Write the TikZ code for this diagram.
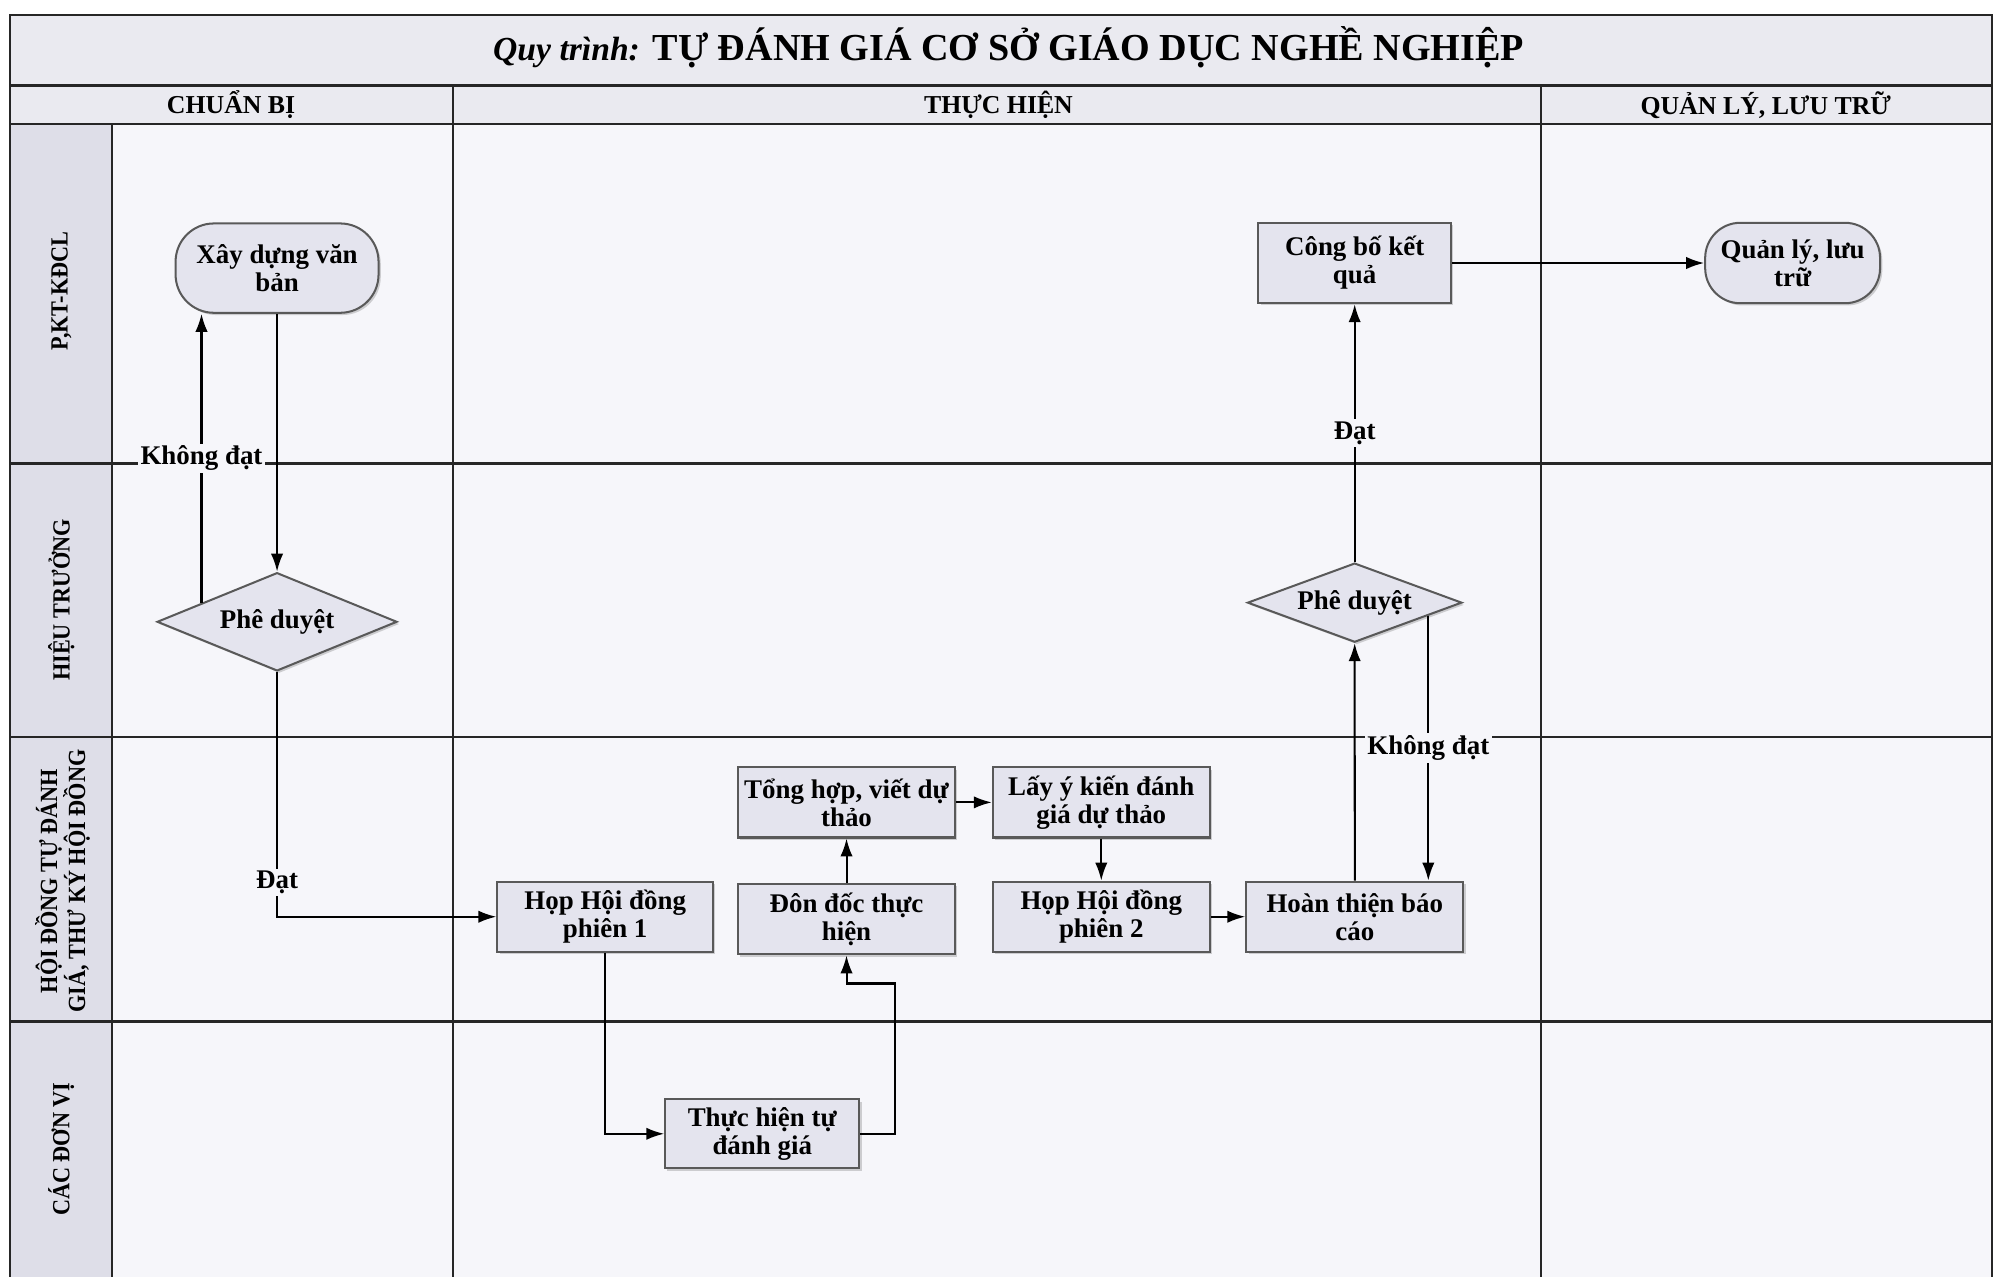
\documentclass[tikz,border=0pt]{standalone}
\usepackage{fontspec}
\setmainfont{Liberation Serif}
\newfontfamily\narrowfont[FakeStretch=0.9]{Liberation Serif}
\definecolor{paper}{RGB}{246,246,250}
\definecolor{band}{RGB}{234,234,240}
\definecolor{lanefill}{RGB}{222,222,232}
\definecolor{boxfill}{RGB}{228,228,238}
\tikzset{
    process/.style={rectangle,draw=black!65,fill=boxfill,text centered,align=center,inner sep=1pt,
        font=\bfseries\fontsize{12}{12.5}\selectfont,minimum width=3.4cm,minimum height=1.1cm,
        drop shadow={shadow xshift=1pt,shadow yshift=-1pt,opacity=0.35}},
    terminal/.style={process,rounded corners=0.55cm},
    decision/.style={diamond,draw=black!65,fill=boxfill,text centered,inner sep=0pt,aspect=2.5,
        font=\bfseries\fontsize{12}{12.5}\selectfont,
        drop shadow={shadow xshift=1pt,shadow yshift=-1pt,opacity=0.35}},
    flowlabel/.style={fill=paper,inner sep=1pt,font=\bfseries\fontsize{12}{12.5}\selectfont},
    lanetitle/.style={rotate=90,align=center,font=\narrowfont\bfseries\fontsize{11}{12.5}\selectfont},
    phasetitle/.style={font=\bfseries\fontsize{11.5}{12}\selectfont},
    grid/.style={draw=black!85,line width=1pt},
}
\usetikzlibrary{shapes,shadows,arrows.meta}
\usetikzlibrary{positioning,calc}

\begin{document}
\begin{tikzpicture}[>={Latex[length=8pt,width=5.5pt]},x=0.02cm,y=-0.02cm,line width=0.9pt]
\useasboundingbox (0,0) rectangle (1568,1000);
% swimlane frame
\fill[paper] (8,12) rectangle (1560,1001);
\fill[band] (8,12) rectangle (1560,97);
\fill[lanefill] (8,97) rectangle (88,1001);
\draw[grid] (8,12) rectangle (1560,1001);
\draw[grid] (8,67) -- (1560,67);
\draw[grid] (8,97) -- (1560,97);
\foreach \y in {363,577,800} \draw[grid] (8,\y) -- (1560,\y);
\foreach \x in {355,1207} \draw[grid] (\x,67) -- (\x,1001);
\draw[grid] (88,97) -- (88,1001);

\node[font=\bfseries\fontsize{17}{17}\selectfont] (title) at (790,37) {{\fontsize{15}{15}\selectfont\itshape Quy trình:} TỰ ĐÁNH GIÁ CƠ SỞ GIÁO DỤC NGHỀ NGHIỆP};
\node[phasetitle] (chuanbi) at (181,82) {CHUẨN BỊ};
\node[phasetitle] (thuchien) at (782,82) {THỰC HIỆN};
\node[phasetitle] (quanlyluutru) at (1383,82) {QUẢN LÝ, LƯU TRỮ};
\node[lanetitle] (kdcl) at (48,228) {P,KT-KĐCL};
\node[lanetitle] (hieutruong) at (48,470) {HIỆU TRƯỞNG};
\node[lanetitle] (hoidong) at (49,690) {HỘI ĐỒNG TỰ ĐÁNH\\GIÁ, THƯ KÝ HỘI ĐỒNG};
\node[lanetitle] (donvi) at (48,900) {CÁC ĐƠN VỊ};

% steps
\node[terminal,minimum width=3.18cm,minimum height=1.4cm,rounded corners=0.6cm] (xd) at (217,210) {Xây dựng văn\\bản};
\node[decision,minimum width=3.76cm,minimum height=1.54cm] (phe1) at (217,487) {Phê duyệt};
\node[process,minimum width=3.38cm] (hhd1) at (474,718) {Họp Hội đồng\\phiên 1};
\node[process,minimum width=3.04cm,minimum height=1.08cm] (thtdg) at (597,888) {Thực hiện tự\\đánh giá};
\node[process] (dondoc) at (663,720) {Đôn đốc thực\\hiện};
\node[process] (tonghop) [above=0.7cm of dondoc] {Tổng hợp, viết dự\\thảo};
\node[process] (layykien) [right=0.56cm of tonghop] {Lấy ý kiến đánh\\giá dự thảo};
\node[process] (hhd2) [below=0.66cm of layykien] {Họp Hội đồng\\phiên 2};
\node[process] (hoanthien) [right=0.54cm of hhd2] {Hoàn thiện báo\\cáo};
\node[decision,minimum width=3.36cm,minimum height=1.24cm,aspect=2.7] (phe2) at (1061,472) {Phê duyệt};
\node[process,minimum width=3.02cm,minimum height=1.26cm] (congbo) at (1061,206) {Công bố kết\\quả};
\node[terminal,minimum width=2.74cm,minimum height=1.26cm] (quanly) at (1404,206) {Quản lý, lưu\\trữ};

% flow
\draw[->] (xd) -- (phe1);
\draw[->] (phe1.166) -- (phe1.166 |- xd.south) node[flowlabel,midway] {Không đạt};
\draw[->] (phe1) |- (hhd1) node[flowlabel,pos=0.43] {Đạt};
\draw[->] (hhd1) |- (thtdg);
\draw[->] (thtdg.east) -| ($(dondoc.south)+(38,22)$) -| (dondoc.south);
\draw[->] (dondoc) -- (tonghop);
\draw[->] (tonghop) -- (layykien);
\draw[->] (layykien) -- (hhd2);
\draw[->] (hhd2) -- (hoanthien);
\draw[->] (hoanthien) -- (phe2);
\draw[->] (phe2.350) -- (phe2.350 |- hoanthien.north) node[flowlabel,midway] {Không đạt};
\draw[->] (phe2) -- (congbo) node[flowlabel,midway] {Đạt};
\draw[->] (congbo) -- (quanly);
\end{tikzpicture}
\end{document}
